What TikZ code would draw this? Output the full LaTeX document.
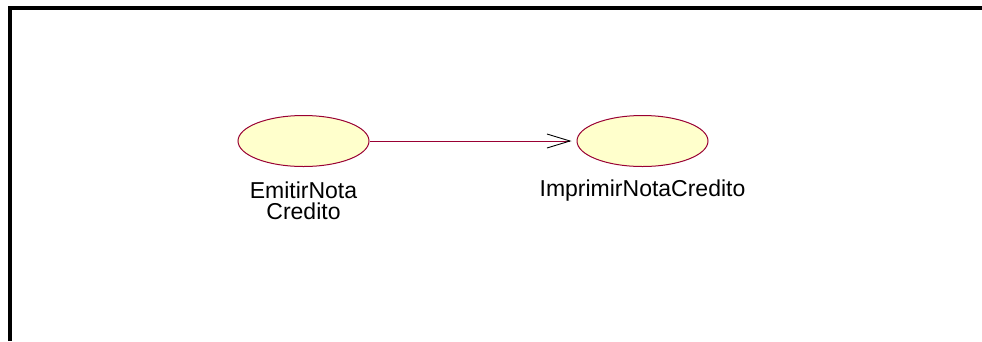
\documentclass[tikz,border=0pt]{standalone}
\usepackage{fontspec}
\setmainfont{Liberation Sans}
\definecolor{ucborde}{HTML}{990033}
\definecolor{ucrelleno}{HTML}{FFFFCC}
\usetikzlibrary{shapes.geometric,arrows.meta,positioning}

\begin{document}
\begin{tikzpicture}[x=1pt,y=-1pt,
  casouso/.style={ellipse,draw=ucborde,fill=ucrelleno,line width=1pt,
                  minimum width=131pt,minimum height=51pt,inner sep=0pt},
  etiqueta/.style={inner sep=0pt,align=center,
                   font=\fontsize{23}{21}\selectfont},
  relacion/.style={draw=ucborde,line width=0.9pt,shorten >=5pt,
                   -{Straight Barb[length=23pt,width=14pt,line width=0.9pt,color=black]}}
]
\useasboundingbox (0,0) rectangle (982,341);

% Marco
\draw[line width=4pt,line cap=butt] (10,341) -- (10,8) -- (982,8);

% Casos de uso
\node[casouso] (emitir)   at (303.5,141) {};
\node[casouso] (imprimir) at (642.5,141) {};

% Nombres
\node[etiqueta,below=15pt of emitir]     (emitirtxt)   {EmitirNota\\Credito};
\node[etiqueta,below=12.5pt of imprimir] (imprimirtxt) {ImprimirNotaCredito};

% Relacion
\draw[relacion] (emitir.east) -- (imprimir.west);

\end{tikzpicture}
\end{document}
